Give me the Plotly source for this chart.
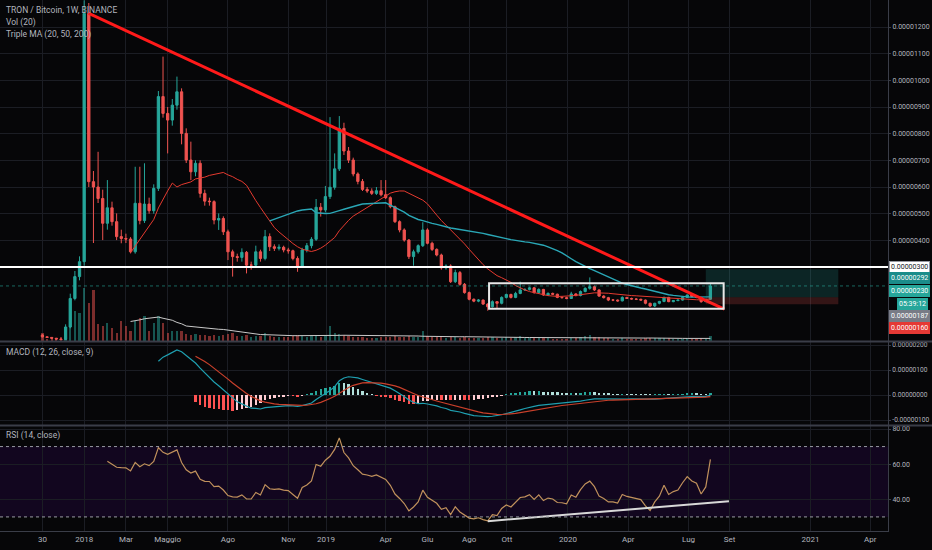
import numpy as np
import pandas as pd
import plotly.graph_objects as go

# ---------------- data (prices in satoshi, weekly bars from 2017-10-30) ----------------
first_bar = "2017-10-30"
opens = [45, 38, 36, 33, 30, 28, 75, 182, 264,
         320, 1251, 620, 600, 557, 464, 522, 470, 414, 407,
         405, 357, 539, 474, 536, 511, 595, 939, 876, 851,
         907, 957, 801, 701, 657, 689, 576, 547, 545, 476,
         482, 432, 357, 339, 336, 355, 307, 307, 357, 332,
         414, 376, 370, 374, 364, 361, 332, 303, 364, 380,
         404, 524, 514, 564, 599, 668, 820, 735, 701, 649,
         621, 591, 585, 576, 586, 571, 560, 526, 470, 439,
         401, 339, 357, 380, 439, 389, 366, 345, 297, 304,
         245, 279, 235, 204, 179, 172, 176, 161, 151, 170,
         164, 186, 197, 186, 201, 214, 216, 222, 204, 216,
         195, 201, 198, 186, 185, 182, 199, 193, 208, 220,
         226, 214, 191, 185, 176, 176, 173, 186, 182, 180,
         179, 176, 164, 154, 164, 171, 186, 170, 174, 176,
         186, 195, 189, 186, 170, 179]
highs = [48, 40, 37, 34, 33, 85, 200, 285, 340,
         1300, 1290, 660, 732, 590, 626, 545, 501, 440, 425,
         412, 676, 676, 689, 560, 610, 960, 1089, 900, 930,
         1014, 970, 820, 770, 700, 700, 590, 560, 550, 501,
         490, 440, 365, 350, 370, 360, 320, 380, 365, 439,
         426, 385, 385, 380, 372, 365, 340, 372, 390, 412,
         555, 540, 604, 862, 726, 866, 841, 750, 710, 655,
         630, 600, 595, 600, 626, 626, 565, 530, 475, 445,
         405, 365, 385, 468, 445, 395, 370, 350, 310, 310,
         290, 285, 240, 208, 182, 180, 178, 164, 175, 172,
         190, 200, 200, 207, 245, 220, 226, 225, 220, 218,
         205, 204, 200, 190, 188, 207, 202, 212, 224, 261,
         230, 216, 194, 188, 180, 178, 190, 188, 185, 183,
         181, 178, 166, 166, 173, 189, 188, 176, 178, 188,
         197, 197, 191, 188, 181, 239]
lows = [36, 34, 31, 28, 27, 27, 70, 175, 250,
        305, 600, 390, 540, 401, 440, 455, 401, 389, 390,
        351, 350, 460, 465, 500, 500, 585, 860, 726, 830,
        890, 760, 690, 626, 640, 560, 530, 530, 460, 439,
        420, 326, 264, 320, 320, 276, 290, 300, 320, 325,
        360, 360, 362, 355, 350, 325, 282, 300, 355, 370,
        398, 489, 505, 555, 590, 660, 720, 690, 640, 610,
        585, 578, 570, 570, 565, 555, 520, 465, 430, 395,
        330, 305, 350, 375, 385, 360, 340, 290, 290, 240,
        240, 230, 200, 175, 168, 168, 158, 136, 148, 145,
        160, 182, 182, 183, 198, 210, 212, 200, 200, 192,
        192, 195, 183, 182, 179, 180, 190, 190, 205, 215,
        210, 188, 182, 172, 172, 170, 171, 180, 178, 176,
        174, 160, 150, 150, 160, 168, 168, 168, 172, 174,
        184, 187, 183, 166, 168, 176]
closes = [38, 36, 33, 30, 28, 75, 182, 264, 320,
          1251, 620, 600, 557, 464, 522, 470, 414, 407, 405,
          357, 539, 474, 536, 511, 595, 939, 876, 851, 907,
          957, 801, 701, 657, 689, 576, 547, 545, 476, 482,
          432, 357, 339, 336, 355, 307, 307, 357, 332, 414,
          376, 370, 374, 364, 361, 332, 303, 364, 380, 404,
          524, 514, 564, 599, 668, 820, 735, 701, 649, 621,
          591, 585, 576, 586, 571, 560, 526, 470, 439, 401,
          339, 357, 380, 439, 389, 366, 345, 297, 304, 245,
          279, 235, 204, 179, 172, 176, 161, 151, 170, 164,
          186, 197, 186, 201, 214, 216, 222, 204, 216, 195,
          201, 198, 186, 185, 182, 199, 193, 208, 220, 226,
          214, 191, 185, 176, 176, 173, 186, 182, 180, 179,
          176, 164, 154, 164, 171, 186, 170, 174, 176, 186,
          195, 189, 186, 170, 179, 229]
volumes = [8, 2, 3, 3, 4, 12, 42, 30, 28,
           53, 38, 51, 17, 15, 18, 13, 8, 20, 15,
           10, 20, 23, 25, 10, 18, 25, 18, 8, 10,
           10, 10, 7, 6, 7, 6, 6, 5, 6, 5,
           6, 7, 8, 5, 5, 6, 4, 5, 5, 8,
           5, 4, 4, 4, 4, 5, 6, 5, 4, 5,
           6, 4, 5, 15, 8, 7, 6, 5, 4, 4,
           4, 3, 3, 3, 4, 4, 4, 5, 4, 4,
           5, 4, 4, 10, 5, 4, 4, 4, 3, 4,
           4, 3, 4, 3, 3, 3, 3, 4, 4, 3,
           3, 4, 3, 4, 5, 3, 3, 3, 3, 3,
           3, 2, 2, 2, 2, 3, 3, 4, 5, 6,
           4, 4, 3, 3, 2, 2, 3, 2, 2, 2,
           2, 3, 3, 3, 3, 3, 3, 2, 2, 2,
           3, 2, 2, 3, 2, 5]

# drawings
trend_dates = ["2018-01-08", "2020-08-24"]
trend_prices = [1251, 142]
support_level = 300
box_dates = ["2019-09-04", "2020-08-23"]
box_prices = [143, 239]
pos_dates = ["2020-07-27", "2021-02-12"]
pos_target, pos_entry, pos_stop = 292, 187, 160
last_price = 229
rsi_line_dates = ["2019-09-02", "2020-08-31"]
rsi_line_values = [27.6, 38.9]

x_ticks = ["2017-10-30", "2018-01-01", "2018-03-05", "2018-05-07", "2018-08-06", "2018-11-05",
           "2019-01-01", "2019-04-01", "2019-06-03", "2019-08-05", "2019-10-01", "2020-01-01",
           "2020-04-01", "2020-07-01", "2020-09-01", "2021-01-01", "2021-04-01"]
x_labels = ["30", "2018", "Mar", "Maggio", "Ago", "Nov", "2019", "Apr", "Giu", "Ago", "Ott",
            "2020", "Apr", "Lug", "Set", "2021", "Apr"]
price_ticks = [300, 400, 500, 600, 700, 800, 900, 1000, 1100, 1200]
macd_ticks = [-100, 0, 100, 200]
macd_tick_labels = ["-0.00000100", "0.00000000", "0.00000100", "0.00000200"]
rsi_ticks = [40, 60, 80]

SAT = 1e-8
n = len(closes)
dates = pd.date_range(first_bar, periods=n, freq="7D")
o = np.array(opens) * SAT
h = np.array(highs) * SAT
l = np.array(lows) * SAT
c = np.array(closes) * SAT
v = np.array(volumes, dtype=float)


# ---------------- indicators (TradingView definitions) ----------------
def sma(a, p):
    out = np.full(len(a), np.nan)
    for i in range(p - 1, len(a)):
        out[i] = np.mean(a[i - p + 1:i + 1])
    return out


def ema(a, p):
    out = np.full(len(a), np.nan)
    idx = np.where(~np.isnan(a))[0]
    s = idx[0]
    if len(a) - s < p:
        return out
    out[s + p - 1] = np.mean(a[s:s + p])
    al = 2.0 / (p + 1)
    for i in range(s + p, len(a)):
        out[i] = al * a[i] + (1 - al) * out[i - 1]
    return out


def rma(a, p):
    out = np.full(len(a), np.nan)
    idx = np.where(~np.isnan(a))[0]
    s = idx[0]
    out[s + p - 1] = np.mean(a[s:s + p])
    for i in range(s + p, len(a)):
        out[i] = (a[i] + (p - 1) * out[i - 1]) / p
    return out


ma20 = sma(c, 20)
ma50 = sma(c, 50)
vol_ma = sma(v, 20)
macd = ema(c, 12) - ema(c, 26)
signal = ema(macd, 9)
hist = macd - signal
hist_colors = []
for i in range(n):
    if np.isnan(hist[i]):
        hist_colors.append("rgba(0,0,0,0)")
        continue
    prev = hist[i - 1] if i > 0 and not np.isnan(hist[i - 1]) else hist[i]
    if hist[i] >= 0:
        hist_colors.append("#26a69a" if prev < hist[i] else "#b2dfdb")
    else:
        hist_colors.append("#ffcdd2" if prev < hist[i] else "#ff5252")
ch = np.diff(c, prepend=np.nan)
gain = np.where(np.isnan(ch), np.nan, np.maximum(ch, 0))
loss = np.where(np.isnan(ch), np.nan, np.maximum(-ch, 0))
ag = rma(gain, 14)
al_ = rma(loss, 14)
rsi = 100 - 100 / (1 + ag / al_)

UP, DN = "#26a69a", "#ef5350"
vol_colors = ["rgba(38,166,154,0.5)" if cc >= oo else "rgba(239,83,80,0.5)" for oo, cc in zip(o, c)]

fig = go.Figure()
# volume (overlay on main pane)
fig.add_trace(go.Bar(x=dates, y=v, marker=dict(color=vol_colors, line=dict(width=0)),
                     yaxis="y4", xaxis="x", width=3.4 * 86400000, showlegend=False, hoverinfo="skip"))
fig.add_trace(go.Scatter(x=dates, y=vol_ma, mode="lines", line=dict(color="#c9c9c9", width=1),
                         yaxis="y4", showlegend=False, hoverinfo="skip"))
# price
fig.add_trace(go.Candlestick(x=dates, open=o, high=h, low=l, close=c,
                             increasing=dict(line=dict(color=UP, width=1), fillcolor=UP),
                             decreasing=dict(line=dict(color=DN, width=1), fillcolor=DN),
                             whiskerwidth=0, yaxis="y", showlegend=False))
fig.add_trace(go.Scatter(x=dates, y=ma20, mode="lines", line=dict(color="#e53a2f", width=1),
                         yaxis="y", showlegend=False, hoverinfo="skip"))
fig.add_trace(go.Scatter(x=dates, y=ma50, mode="lines", line=dict(color="#2aa7b6", width=1.4),
                         yaxis="y", showlegend=False, hoverinfo="skip"))
fig.add_trace(go.Scatter(x=trend_dates, y=np.array(trend_prices) * SAT, mode="lines",
                         line=dict(color="#ff1a1a", width=3), yaxis="y", showlegend=False))
# MACD
fig.add_trace(go.Bar(x=dates, y=hist, marker=dict(color=hist_colors, line=dict(width=0)),
                     width=3.6 * 86400000, yaxis="y2", showlegend=False))
fig.add_trace(go.Scatter(x=dates, y=macd, mode="lines", line=dict(color="#1f9fb0", width=1.2),
                         yaxis="y2", showlegend=False))
fig.add_trace(go.Scatter(x=dates, y=signal, mode="lines", line=dict(color="#c9402b", width=1.2),
                         yaxis="y2", showlegend=False))
# RSI
fig.add_trace(go.Scatter(x=dates, y=rsi, mode="lines", line=dict(color="#c0915c", width=1.2),
                         yaxis="y3", showlegend=False))
fig.add_trace(go.Scatter(x=rsi_line_dates, y=rsi_line_values, mode="lines",
                         line=dict(color="#d8d8d8", width=2), yaxis="y3", showlegend=False))

BG = "#060608"
GRID = "#1b1d24"
AX = "#3a3d48"
TXT = "#b2b5be"
FONT = "Roboto, sans-serif"
XR = 0.9528

shapes = [
    # RSI band
    dict(type="rect", xref="x domain", yref="y3", x0=0, x1=1, y0=30, y1=70,
         fillcolor="#12061f", line=dict(width=0), layer="below"),
    dict(type="line", xref="x domain", yref="y3", x0=0, x1=1, y0=70, y1=70,
         line=dict(color="#9a9ca4", width=1, dash="dot")),
    dict(type="line", xref="x domain", yref="y3", x0=0, x1=1, y0=30, y1=30,
         line=dict(color="#9a9ca4", width=1, dash="dot")),
    # horizontal support
    dict(type="line", xref="x domain", yref="y", x0=0, x1=1, y0=support_level * SAT, y1=support_level * SAT,
         line=dict(color="#ffffff", width=2)),
    # last price line
    dict(type="line", xref="x domain", yref="y", x0=0, x1=1, y0=last_price * SAT, y1=last_price * SAT,
         line=dict(color="rgba(38,166,154,0.6)", width=1, dash="dot")),
    # long position tool
    dict(type="rect", xref="x", yref="y", x0=pos_dates[0], x1=pos_dates[1], y0=pos_entry * SAT,
         y1=pos_target * SAT, fillcolor="rgba(38,166,154,0.2)", line=dict(width=0)),
    dict(type="rect", xref="x", yref="y", x0=pos_dates[0], x1=pos_dates[1], y0=pos_stop * SAT,
         y1=pos_entry * SAT, fillcolor="rgba(239,83,80,0.2)", line=dict(width=0)),
    # consolidation box
    dict(type="rect", xref="x", yref="y", x0=box_dates[0], x1=box_dates[1], y0=box_prices[0] * SAT,
         y1=box_prices[1] * SAT, line=dict(color="#e8e8e8", width=2), fillcolor="rgba(0,0,0,0)"),
    # pane separators
    dict(type="line", xref="paper", yref="paper", x0=0, x1=1, y0=0.3568, y1=0.3568,
         line=dict(color=AX, width=2)),
    dict(type="line", xref="paper", yref="paper", x0=0, x1=1, y0=0.1986, y1=0.1986,
         line=dict(color=AX, width=2)),
]


def lab(text, value, bg, fg="#ffffff", shift=0, border=None):
    return dict(xref="paper", yref="y", x=XR + 0.001, y=value * SAT, xanchor="left", yanchor="middle",
                text=text, showarrow=False, bgcolor=bg, bordercolor=border or bg, borderwidth=1,
                borderpad=1, yshift=shift, font=dict(family=FONT, size=7, color=fg))


legend_font = dict(family=FONT, size=8.5, color=TXT)
annotations = [
    dict(xref="paper", yref="paper", x=0.004, y=0.981, xanchor="left", yanchor="middle",
         text="TRON / Bitcoin, 1W, BINANCE", showarrow=False, font=legend_font),
    dict(xref="paper", yref="paper", x=0.004, y=0.957, xanchor="left", yanchor="middle",
         text="Vol (20)", showarrow=False, font=legend_font),
    dict(xref="paper", yref="paper", x=0.004, y=0.935, xanchor="left", yanchor="middle",
         text="Triple MA (20, 50, 200)", showarrow=False, font=legend_font),
    dict(xref="paper", yref="paper", x=0.004, y=0.337, xanchor="left", yanchor="middle",
         text="MACD (12, 26, close, 9)", showarrow=False, font=legend_font),
    dict(xref="paper", yref="paper", x=0.004, y=0.179, xanchor="left", yanchor="middle",
         text="RSI (14, close)", showarrow=False, font=legend_font),
    lab("0.00000300", support_level, "#ffffff", fg="#131722", border="#9598a1"),
    lab("0.00000292", pos_target, "#1b8c8a", shift=-9),
    lab("0.00000230", last_price, "#26a69a", shift=-5),
    lab("05:39:12", last_price, "#26a69a", shift=-18),
    lab("0.00000187", pos_entry, "#787b86", shift=-19),
    lab("0.00000160", pos_stop, "#e53935", shift=-24),
]
annotations[8]["x"] = XR + 0.01

axis_font = dict(family=FONT, size=7, color=TXT)
macd_font = dict(family=FONT, size=6.6, color=TXT)
xaxis_font = dict(family=FONT, size=8, color=TXT)
fig.update_layout(
    width=932, height=550, margin=dict(l=0, r=0, t=0, b=19, autoexpand=False),
    paper_bgcolor=BG, plot_bgcolor=BG, bargap=0, barmode="overlay",
    showlegend=False, shapes=shapes, annotations=annotations,
    xaxis=dict(domain=[0, XR], anchor="y3", type="date", automargin=False,
               range=["2017-08-27", "2021-04-28"], tickvals=x_ticks, ticktext=x_labels,
               tickfont=xaxis_font, showgrid=True, gridcolor=GRID, gridwidth=1, zeroline=False,
               showline=True, linecolor=AX, linewidth=1, ticks="", rangeslider=dict(visible=False)),
    yaxis=dict(domain=[0.3578, 1], anchor="x", side="right", range=[22.5 * SAT, 1301.25 * SAT],
               automargin=False,
               tickvals=[t * SAT for t in price_ticks], tickformat=".8f", tickfont=axis_font,
               showgrid=True, gridcolor=GRID, zeroline=False, showline=True, linecolor=AX,
               ticks="outside", ticklen=2, tickcolor=AX),
    yaxis4=dict(domain=[0.3578, 1], anchor="x", overlaying="y", range=[0, 341],
                visible=False, showgrid=False, automargin=False),
    yaxis2=dict(domain=[0.1996, 0.3559], anchor="x", side="right", range=[-120 * SAT, 212 * SAT],
                automargin=False,
                tickvals=[t * SAT for t in macd_ticks], ticktext=macd_tick_labels, tickfont=macd_font,
                showgrid=True, gridcolor=GRID, zeroline=False, showline=True, linecolor=AX,
                ticks="outside", ticklen=2, tickcolor=AX),
    yaxis3=dict(domain=[0, 0.1977], anchor="x", side="right", range=[22, 81.7],
                automargin=False,
                tickvals=rsi_ticks, tickformat=".2f", tickfont=axis_font,
                showgrid=True, gridcolor=GRID, zeroline=False, showline=True, linecolor=AX,
                ticks="outside", ticklen=2, tickcolor=AX),
)

fig.write_html("out.html", config={"displayModeBar": False},
               post_script="document.body.style.margin='0px';document.body.style.background='#060608';")
